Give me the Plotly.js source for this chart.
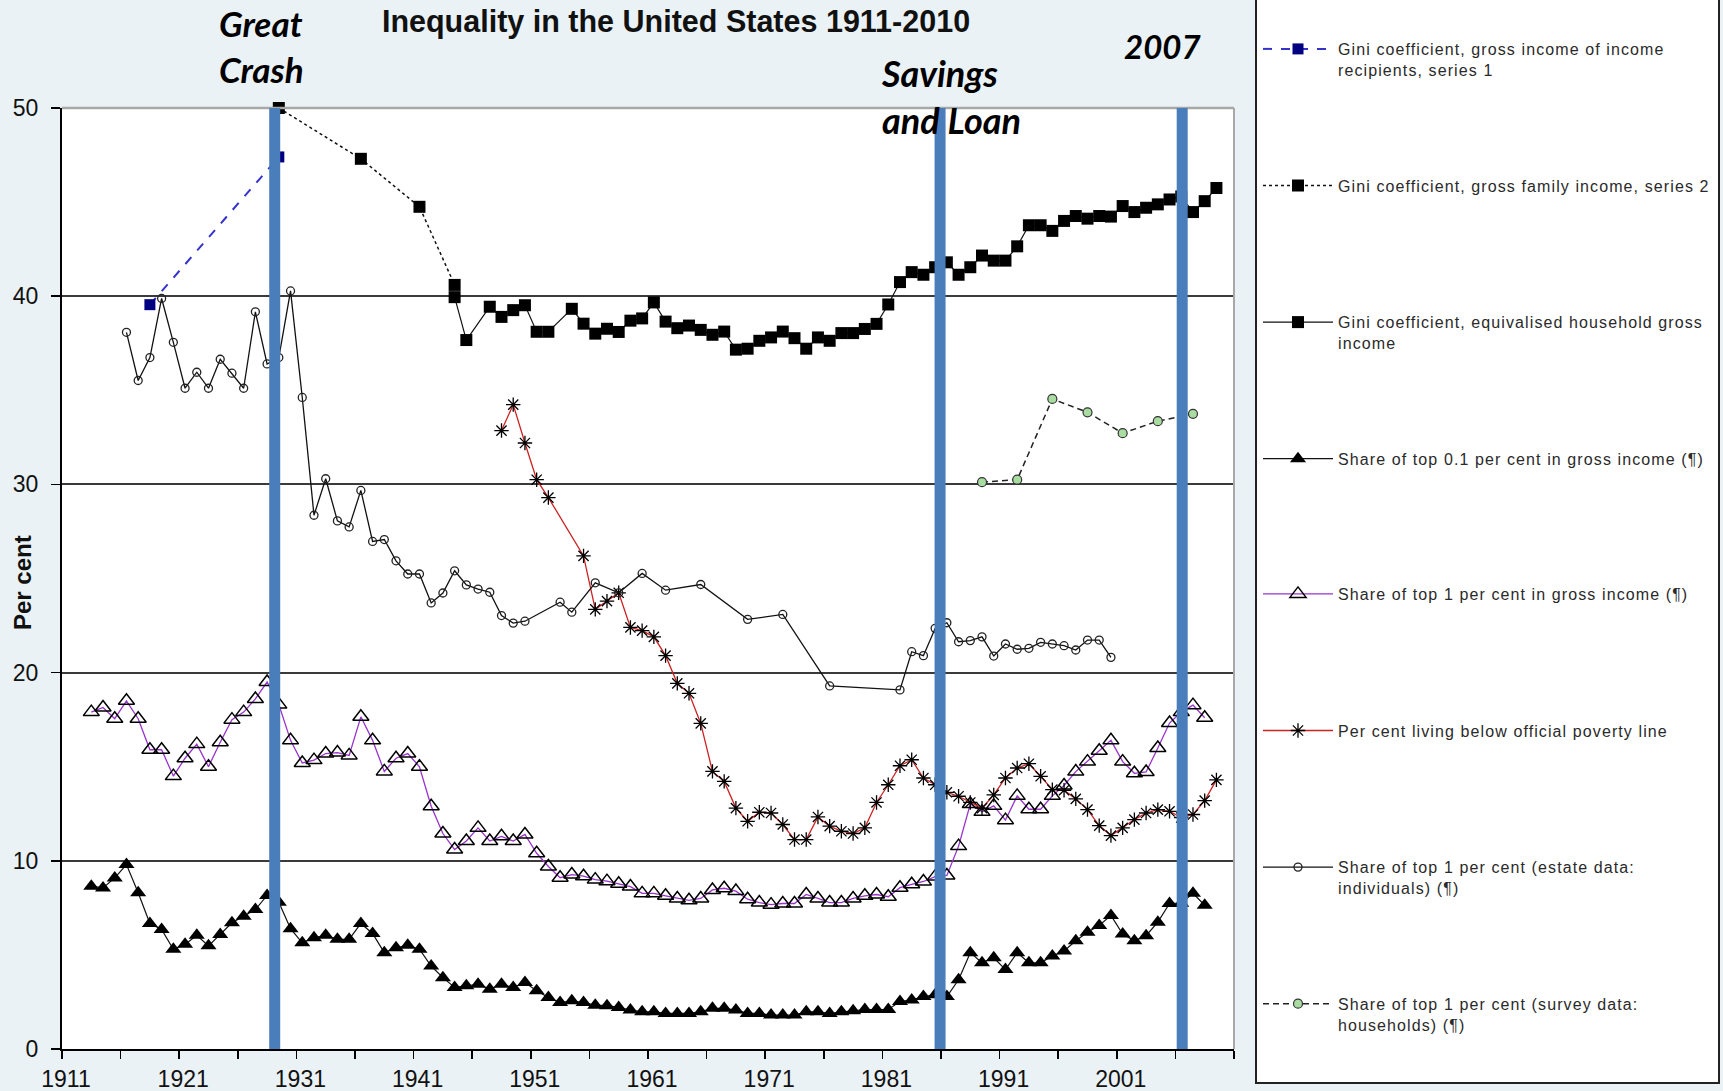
<!DOCTYPE html>
<html>
<head>
<meta charset="utf-8">
<script src="https://cdn.plot.ly/plotly-3.0.1.min.js"></script>
<style>
  html, body { margin: 0; padding: 0; background: rgb(234,242,245); }
  #chart { width: 1723px; height: 1091px; }
</style>
</head>
<body>
<div id="chart"></div>
<script>
// ---------------- DATA ----------------
const chartTitle = 'Inequality in the United States 1911-2010';

// Gini coefficient, gross income of income recipients, series 1
const giniRecipYears = [1918, 1929];
const giniRecip = [39.55, 47.4];

// Gini coefficient, gross family income, series 2
const giniFamilyYears = [1929, 1936, 1941, 1944];
const giniFamily = [50.0, 47.3, 44.75, 40.6];

// Gini coefficient, equivalised household gross income
const giniHouseYears = [1944, 1945, 1947, 1948, 1949, 1950, 1951, 1952,
  1954, 1955, 1956, 1957, 1958, 1959, 1960,
  1961, 1962, 1963, 1964, 1965, 1966, 1967, 1968, 1969, 1970,
  1971, 1972, 1973, 1974, 1975, 1976, 1977, 1978, 1979, 1980,
  1981, 1982, 1983, 1984, 1985, 1986, 1987, 1988, 1989, 1990,
  1991, 1992, 1993, 1994, 1995, 1996, 1997, 1998, 1999, 2000,
  2001, 2002, 2003, 2004, 2005, 2006, 2007, 2008, 2009];
const giniHouse = [39.95, 37.67, 39.44, 38.9, 39.26, 39.52, 38.11, 38.11,
  39.33, 38.54, 38.01, 38.27, 38.1, 38.7, 38.82,
  39.67, 38.65, 38.3, 38.44, 38.21, 37.95, 38.12, 37.16, 37.21, 37.63,
  37.81, 38.12, 37.77, 37.21, 37.81, 37.63, 38.04, 38.04, 38.26, 38.53,
  39.56, 40.75, 41.28, 41.14, 41.54, 41.8, 41.14, 41.54, 42.16, 41.89,
  41.89, 42.65, 43.77, 43.77, 43.47, 44.0, 44.26, 44.12, 44.26, 44.23,
  44.79, 44.47, 44.7, 44.88, 45.14, 45.3, 44.47, 45.05, 45.75];

// Shares of top 0.1 and top 1 per cent in gross income
const shareYears = [1913, 1914, 1915, 1916, 1917, 1918, 1919, 1920, 1921, 1922,
  1923, 1924, 1925, 1926, 1927, 1928, 1929, 1930, 1931, 1932,
  1933, 1934, 1935, 1936, 1937, 1938, 1939, 1940, 1941, 1942,
  1943, 1944, 1945, 1946, 1947, 1948, 1949, 1950, 1951, 1952,
  1953, 1954, 1955, 1956, 1957, 1958, 1959, 1960, 1961, 1962,
  1963, 1964, 1965, 1966, 1967, 1968, 1969, 1970, 1971, 1972,
  1973, 1974, 1975, 1976, 1977, 1978, 1979, 1980, 1981, 1982,
  1983, 1984, 1985, 1986, 1987, 1988, 1989, 1990, 1991, 1992,
  1993, 1994, 1995, 1996, 1997, 1998, 1999, 2000, 2001, 2002,
  2003, 2004, 2005, 2006, 2007, 2008];
const top01Share = [8.65, 8.56, 9.09, 9.8, 8.3, 6.67, 6.35, 5.3, 5.56, 6.04,
  5.48, 6.09, 6.71, 7.06, 7.41, 8.16, 7.8, 6.39, 5.64, 5.91,
  6.04, 5.83, 5.83, 6.67, 6.14, 5.12, 5.38, 5.51, 5.3, 4.41,
  3.79, 3.27, 3.36, 3.44, 3.18, 3.44, 3.27, 3.53, 3.09, 2.74,
  2.47, 2.56, 2.47, 2.33, 2.3, 2.21, 2.07, 1.98, 1.98, 1.89,
  1.89, 1.89, 1.98, 2.16, 2.16, 2.07, 1.89, 1.89, 1.8, 1.8,
  1.8, 1.98, 1.98, 1.89, 1.98, 2.03, 2.1, 2.1, 2.1, 2.52,
  2.61, 2.79, 2.88, 2.79, 3.68, 5.12, 4.58, 4.85, 4.22, 5.12,
  4.58, 4.58, 4.94, 5.21, 5.75, 6.2, 6.56, 7.1, 6.11, 5.75,
  6.02, 6.74, 7.73, 7.75, 8.27, 7.64];
const top1Share = [17.9, 18.15, 17.55, 18.5, 17.55, 15.9, 15.9, 14.5, 15.45, 16.2,
  15.0, 16.3, 17.5, 17.9, 18.6, 19.5, 18.3, 16.4, 15.2, 15.35,
  15.7, 15.75, 15.6, 17.65, 16.4, 14.75, 15.45, 15.7, 15.0, 12.9,
  11.45, 10.6, 11.05, 11.75, 11.05, 11.3, 11.05, 11.4, 10.4, 9.7,
  9.1, 9.27, 9.18, 9.0, 8.92, 8.78, 8.63, 8.27, 8.27, 8.14,
  8.0, 7.9, 8.0, 8.45, 8.54, 8.39, 7.96, 7.78, 7.67, 7.73,
  7.73, 8.21, 8.0, 7.78, 7.78, 8.0, 8.14, 8.21, 8.09, 8.57,
  8.75, 8.9, 9.16, 9.22, 10.78, 13.02, 12.6, 12.92, 12.16, 13.45,
  12.74, 12.74, 13.45, 14.0, 14.74, 15.27, 15.85, 16.4, 15.27, 14.65,
  14.72, 15.99, 17.32, 17.9, 18.27, 17.6];

// Per cent living below official poverty line
const povertyYears = [1948, 1949, 1950, 1951, 1952,
  1955, 1956, 1957, 1958, 1959,
  1960, 1961, 1962, 1963, 1964, 1965, 1966, 1967, 1968, 1969,
  1970, 1971, 1972, 1973, 1974, 1975, 1976, 1977, 1978, 1979,
  1980, 1981, 1982, 1983, 1984, 1985, 1986, 1987, 1988, 1989,
  1990, 1991, 1992, 1993, 1994, 1995, 1996, 1997, 1998, 1999,
  2000, 2001, 2002, 2003, 2004, 2005, 2006, 2007, 2008, 2009];
const povertyRate = [32.86, 34.24, 32.2, 30.25, 29.3,
  26.2, 23.36, 23.8, 24.24, 22.4,
  22.23, 21.9, 20.9, 19.43, 18.9, 17.3, 14.75, 14.22, 12.8, 12.1,
  12.58, 12.54, 11.93, 11.13, 11.13, 12.33, 11.84, 11.57, 11.45, 11.75,
  13.1, 14.04, 15.05, 15.37, 14.4, 14.04, 13.64, 13.43, 13.1, 12.8,
  13.5, 14.4, 14.93, 15.16, 14.49, 13.78, 13.75, 13.29, 12.72, 11.87,
  11.34, 11.75, 12.19, 12.54, 12.72, 12.63, 12.3, 12.46, 13.2, 14.3];

// Share of top 1 per cent (estate data: individuals)
const estateYears = [1916, 1917, 1918, 1919, 1920, 1921, 1922, 1923, 1924, 1925,
  1926, 1927, 1928, 1929, 1930, 1931, 1932, 1933, 1934, 1935,
  1936, 1937, 1938, 1939, 1940, 1941, 1942, 1943, 1944, 1945,
  1946, 1947, 1948, 1949, 1950,
  1953, 1954, 1956, 1958, 1960, 1962, 1965, 1969, 1972, 1976, 1982,
  1983, 1984, 1985, 1986, 1987, 1988, 1989, 1990, 1991, 1992,
  1993, 1994, 1995, 1996, 1997, 1998, 1999, 2000];
const estateShare = [38.08, 35.52, 36.74, 39.88, 37.55, 35.11, 35.96, 35.11, 36.65, 35.91,
  35.11, 39.17, 36.4, 36.74, 40.28, 34.62, 28.36, 30.3, 28.06, 27.74,
  29.68, 26.97, 27.07, 25.94, 25.24, 25.24, 23.7, 24.23, 25.41, 24.66,
  24.44, 24.27, 23.03, 22.63, 22.73,
  23.74, 23.21, 24.77, 24.24, 25.27, 24.38, 24.68, 22.83, 23.09, 19.29, 19.08,
  21.11, 20.9, 22.35, 22.65, 21.64, 21.7, 21.9, 20.88, 21.52, 21.24,
  21.29, 21.61, 21.52, 21.43, 21.2, 21.73, 21.73, 20.81];

// Share of top 1 per cent (survey data: households)
const surveyYears = [1989, 1992, 1995, 1998, 2001, 2004, 2007];
const surveyShare = [30.12, 30.25, 34.54, 33.83, 32.72, 33.36, 33.75];

// Event markers (vertical bars) and their labels
const eventYears = [1928.65, 1985.42, 2006.08];
const eventLabels = ['Great<br>Crash', 'Savings<br>and Loan', '2007'];

// Axis ticks
const xTickYears = [1911, 1916, 1921, 1926, 1931, 1936, 1941, 1946, 1951, 1956, 1961,
  1966, 1971, 1976, 1981, 1986, 1991, 1996, 2001, 2006, 2011];
const xTickLabels = ['1911', '', '1921', '', '1931', '', '1941', '', '1951', '', '1961',
  '', '1971', '', '1981', '', '1991', '', '2001', '', ''];
const yTickVals = [0, 10, 20, 30, 40, 50];

const seriesNames = [
  'Gini coefficient, gross income of income<br>recipients, series 1',
  'Gini coefficient, gross family income, series 2<br>\u00a0',
  'Gini coefficient, equivalised household gross<br>income',
  'Share of top 0.1 per cent in gross income (\u00b6)<br>\u00a0',
  'Share of top 1 per cent in gross income (\u00b6)<br>\u00a0',
  'Per cent living below official poverty line<br>\u00a0',
  'Share of top 1 per cent (estate data:<br>individuals) (\u00b6)',
  'Share of top 1 per cent (survey data:<br>households) (\u00b6)'
];

// ---------------- CHART ----------------
const FONT = 'Liberation Sans, Arial, sans-serif';

function tr(i, x, y, line, marker, extra) {
  return Object.assign({
    type: 'scatter', mode: 'lines+markers', x: x, y: y,
    name: seriesNames[i], legendgroup: 'g' + i,
    legend: i < 4 ? 'legend' : 'legend2',
    line: line, marker: marker, hoverinfo: 'x+y'
  }, extra || {});
}

const traces = [
  tr(0, giniRecipYears, giniRecip,
    {color: '#3333CC', width: 2, dash: 'dash'},
    {symbol: 'square', size: 11, color: '#000080'}),
  tr(1, giniFamilyYears, giniFamily,
    {color: '#111', width: 1.5, dash: 'dot'},
    {symbol: 'square', size: 12, color: '#000'}, {cliponaxis: false}),
  tr(2, giniHouseYears, giniHouse,
    {color: '#111', width: 1.2},
    {symbol: 'square', size: 12, color: '#000'}),
  tr(3, shareYears, top01Share,
    {color: '#111', width: 1.2},
    {symbol: 'triangle-up', size: 14, color: '#000'}),
  tr(4, shareYears, top1Share,
    {color: '#9933CC', width: 1.3},
    {symbol: 'triangle-up-open', size: 14, color: '#000', line: {color: '#000', width: 1.5}}),
  tr(5, povertyYears, povertyRate,
    {color: '#CC2222', width: 1.3},
    {symbol: 'asterisk-open', size: 12, color: '#000', line: {color: '#000', width: 1.3}}),
  tr(6, estateYears, estateShare,
    {color: '#111', width: 1.3},
    {symbol: 'circle-open', size: 8, color: '#222', line: {color: '#222', width: 1.3}}),
  tr(7, surveyYears, surveyShare,
    {color: '#222', width: 1.5, dash: '6px,4px'},
    {symbol: 'circle', size: 9, color: '#A8DCA0', line: {color: '#333', width: 1.2}})
];

const W = 1723, H = 1091;
const M = {l: 62, r: 489, t: 108, b: 42};
const pw = W - M.l - M.r, ph = H - M.t - M.b;
const px = v => (v - M.l) / pw;          // container px -> paper x
const py = v => (H - M.b - v) / ph;      // container px -> paper y

const shapes = [
  // legend frame
  {type: 'rect', xref: 'paper', yref: 'paper', x0: px(1256), x1: px(1719), y0: py(1083), y1: py(-3),
   fillcolor: '#ffffff', line: {color: '#222', width: 2}, layer: 'below'},
  // light top / right plot frame
  {type: 'line', xref: 'paper', yref: 'paper', x0: 0, x1: 1, y0: 1, y1: 1,
   line: {color: '#a8a8a8', width: 2.5}, layer: 'above'},
  {type: 'line', xref: 'paper', yref: 'paper', x0: 1, x1: 1, y0: 0, y1: 1,
   line: {color: '#a8a8a8', width: 2}, layer: 'above'}
];
eventYears.forEach(ev => shapes.push({
  type: 'line', xref: 'x', yref: 'y', x0: ev, x1: ev, y0: 0, y1: 50.5,
  line: {color: '#4A7EBB', width: 11}, layer: 'above'
}));

const annFont = {family: 'Lato, sans-serif', size: 35, color: '#000', weight: 700, style: 'italic'};
const annotations = [
  {text: eventLabels[0], xref: 'x', yref: 'paper', x: 1923.75, y: py(46),
   xanchor: 'left', yanchor: 'middle', align: 'left', showarrow: false, font: annFont},
  {text: eventLabels[1], xref: 'x', yref: 'paper', x: 1980.25, y: py(97),
   xanchor: 'left', yanchor: 'middle', align: 'left', showarrow: false,
   font: Object.assign({}, annFont, {size: 36})},
  {text: eventLabels[2], xref: 'x', yref: 'paper', x: 2000.95, y: py(46),
   xanchor: 'left', yanchor: 'middle', align: 'left', showarrow: false,
   font: Object.assign({}, annFont, {size: 33})},
  {text: 'Per cent', xref: 'paper', yref: 'paper', x: px(22), y: py(583), textangle: -90,
   xanchor: 'center', yanchor: 'middle', showarrow: false,
   font: {family: FONT, size: 24, color: '#111', weight: 700}}
];

const legendBase = {
  xref: 'container', yref: 'container', xanchor: 'left', yanchor: 'top',
  bgcolor: 'rgba(0,0,0,0)', borderwidth: 0,
  traceorder: 'grouped', tracegroupgap: 92, valign: 'top',
  itemwidth: 70,
  font: {family: FONT, size: 16, color: '#2a2a2a'}
};

const layout = {
  width: W, height: H,
  margin: M,
  paper_bgcolor: 'rgb(234,242,245)',
  plot_bgcolor: '#ffffff',
  showlegend: true,
  title: {
    text: chartTitle, xref: 'container', yref: 'container',
    x: 676 / W, y: 1 - 21 / H, xanchor: 'center', yanchor: 'middle',
    font: {family: FONT, size: 30.5, color: '#111', weight: 700}
  },
  xaxis: {
    range: [1910.5, 2010.5],
    tickmode: 'array',
    tickvals: xTickYears.map(y => y - 0.5),
    ticktext: xTickLabels,
    ticks: 'outside', ticklen: 8, tickwidth: 1.5, tickcolor: '#000',
    showline: true, linecolor: '#000', linewidth: 2,
    showgrid: false, zeroline: false,
    ticklabelshift: 4,
    tickfont: {family: FONT, size: 23, color: '#111'}
  },
  yaxis: {
    range: [0, 50],
    tickmode: 'array', tickvals: yTickVals,
    ticks: 'outside', ticklen: 9, tickwidth: 1.5, tickcolor: '#000',
    showline: true, linecolor: '#000', linewidth: 2,
    showgrid: true, gridcolor: '#3a3a3a', gridwidth: 2,
    zeroline: false,
    ticklabelstandoff: 8,
    tickfont: {family: FONT, size: 23, color: '#111'}
  },
  legend: Object.assign({}, legendBase, {x: 1258 / W, y: 1 - 32 / H}),
  legend2: Object.assign({}, legendBase, {x: 1258 / W, y: 1 - 577 / H}),
  shapes: shapes,
  annotations: annotations
};

Plotly.newPlot('chart', traces, layout, {displayModeBar: false, staticPlot: true}).then(gd => {
  // same letter spacing for the texts of both legend boxes, and no clipping of the widened text
  gd.querySelectorAll('.infolayer g[class^="legend"]').forEach(g => {
    g.removeAttribute('clip-path');
    g.querySelectorAll('[clip-path]').forEach(el => el.removeAttribute('clip-path'));
    g.querySelectorAll('text').forEach(t => { t.style.letterSpacing = '1.1px'; });
  });
});
</script>
</body>
</html>
